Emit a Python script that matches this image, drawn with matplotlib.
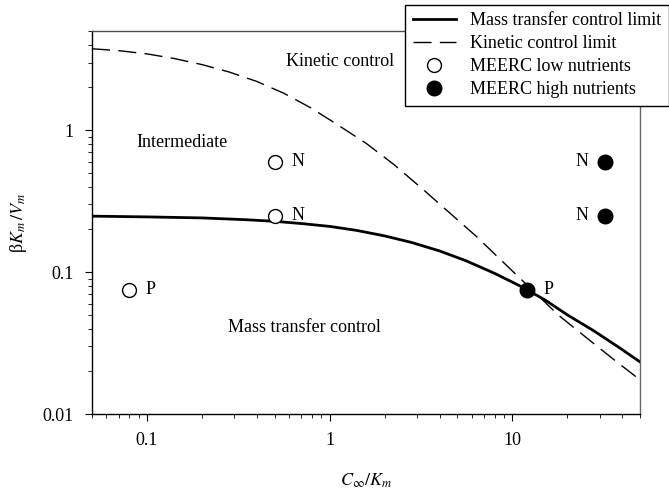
import numpy as np
import matplotlib
matplotlib.use('Agg')
import matplotlib.pyplot as plt

# curve points (C_inf/K_m, beta K_m / V_m)
mass_x = [0.05, 0.1, 0.2, 0.35, 0.5, 0.7, 1, 1.4, 2, 2.8, 4, 5.6, 8, 11, 15, 20, 28, 38, 50]
mass_y = [0.248, 0.245, 0.241, 0.234, 0.228, 0.22, 0.21, 0.197, 0.18, 0.162, 0.141,
          0.120, 0.098, 0.080, 0.064, 0.050, 0.0385, 0.0297, 0.0233]

kin_x = [0.05, 0.0708, 0.1, 0.141, 0.2, 0.282, 0.398, 0.562, 0.794, 1.12, 1.58, 2.24,
         3.16, 4.47, 6.31, 8.91, 12.6, 17.8, 25.1, 35.5, 50]
kin_y = [3.75, 3.63, 3.45, 3.2, 2.9, 2.57, 2.21, 1.82, 1.43, 1.08, 0.81, 0.575,
         0.394, 0.266, 0.18, 0.1175, 0.0767, 0.050, 0.035, 0.0245, 0.0174]

# MEERC points
low_x = [0.08, 0.5, 0.5]
low_y = [0.075, 0.6, 0.25]
low_lab = ['P', 'N', 'N']

high_x = [12, 32, 32]
high_y = [0.075, 0.6, 0.25]
high_lab = ['P', 'N', 'N']

plt.rc('font', family=['Liberation Serif', 'DejaVu Serif'], size=13)
plt.rc('mathtext', fontset='stix')

fig = plt.figure(figsize=(6.69, 4.90), dpi=100)
ax = fig.add_axes([0.1375, 0.155, 0.8192, 0.7817])

ax.plot(mass_x, mass_y, color='black', lw=2.0, label='Mass transfer control limit')
ax.plot(kin_x, kin_y, color='black', lw=1.0, dashes=(13, 6), label='Kinetic control limit')
ax.plot(low_x, low_y, 'o', ms=10, mfc='white', mec='black', mew=1.0,
        label='MEERC low nutrients')
ax.plot(high_x, high_y, 'o', ms=10.5, mfc='black', mec='black',
        label='MEERC high nutrients')

for x, y, t in zip(low_x, low_y, low_lab):
    ax.annotate(t, (x, y), xytext=(12, 0), textcoords='offset points',
                va='center', ha='left')
for x, y, t in zip(high_x, high_y, high_lab):
    if t == 'P':
        ax.annotate(t, (x, y), xytext=(12, 0), textcoords='offset points',
                    va='center', ha='left')
    else:
        ax.annotate(t, (x, y), xytext=(-12, 0), textcoords='offset points',
                    va='center', ha='right')

ax.text(1.14, 3.05, 'Kinetic control', ha='center', va='center')
ax.text(0.156, 0.82, 'Intermediate', ha='center', va='center')
ax.text(0.73, 0.041, 'Mass transfer control', ha='center', va='center')

ax.set_xscale('log')
ax.set_yscale('log')
ax.set_xlim(0.05, 50)
ax.set_ylim(0.01, 5)
ax.set_xticks([0.1, 1, 10])
ax.set_xticklabels(['0.1', '1', '10'])
ax.set_yticks([0.01, 0.1, 1])
ax.set_yticklabels(['0.01', '0.1', '1'])
ax.tick_params(which='both', direction='out', top=False, right=False)
ax.tick_params(which='major', length=5, pad=8)
ax.tick_params(which='minor', length=3)
for s in ax.spines.values():
    s.set_linewidth(1.0)
ax.spines['right'].set_color('0.4')
ax.spines['top'].set_color('0.3')

ax.set_xlabel(r'$C_{\infty}/K_m$', labelpad=16)
ax.set_ylabel(r'β$K_m\,/V_m$', labelpad=10)

leg = ax.legend(loc='upper right', bbox_to_anchor=(1.0, 0.99),
                bbox_transform=fig.transFigure, borderaxespad=0,
                fancybox=False, framealpha=1, edgecolor='black',
                handlelength=2.4, labelspacing=0.33, borderpad=0.42)
leg.get_frame().set_linewidth(1.0)

fig.savefig('out.png', dpi=100)
